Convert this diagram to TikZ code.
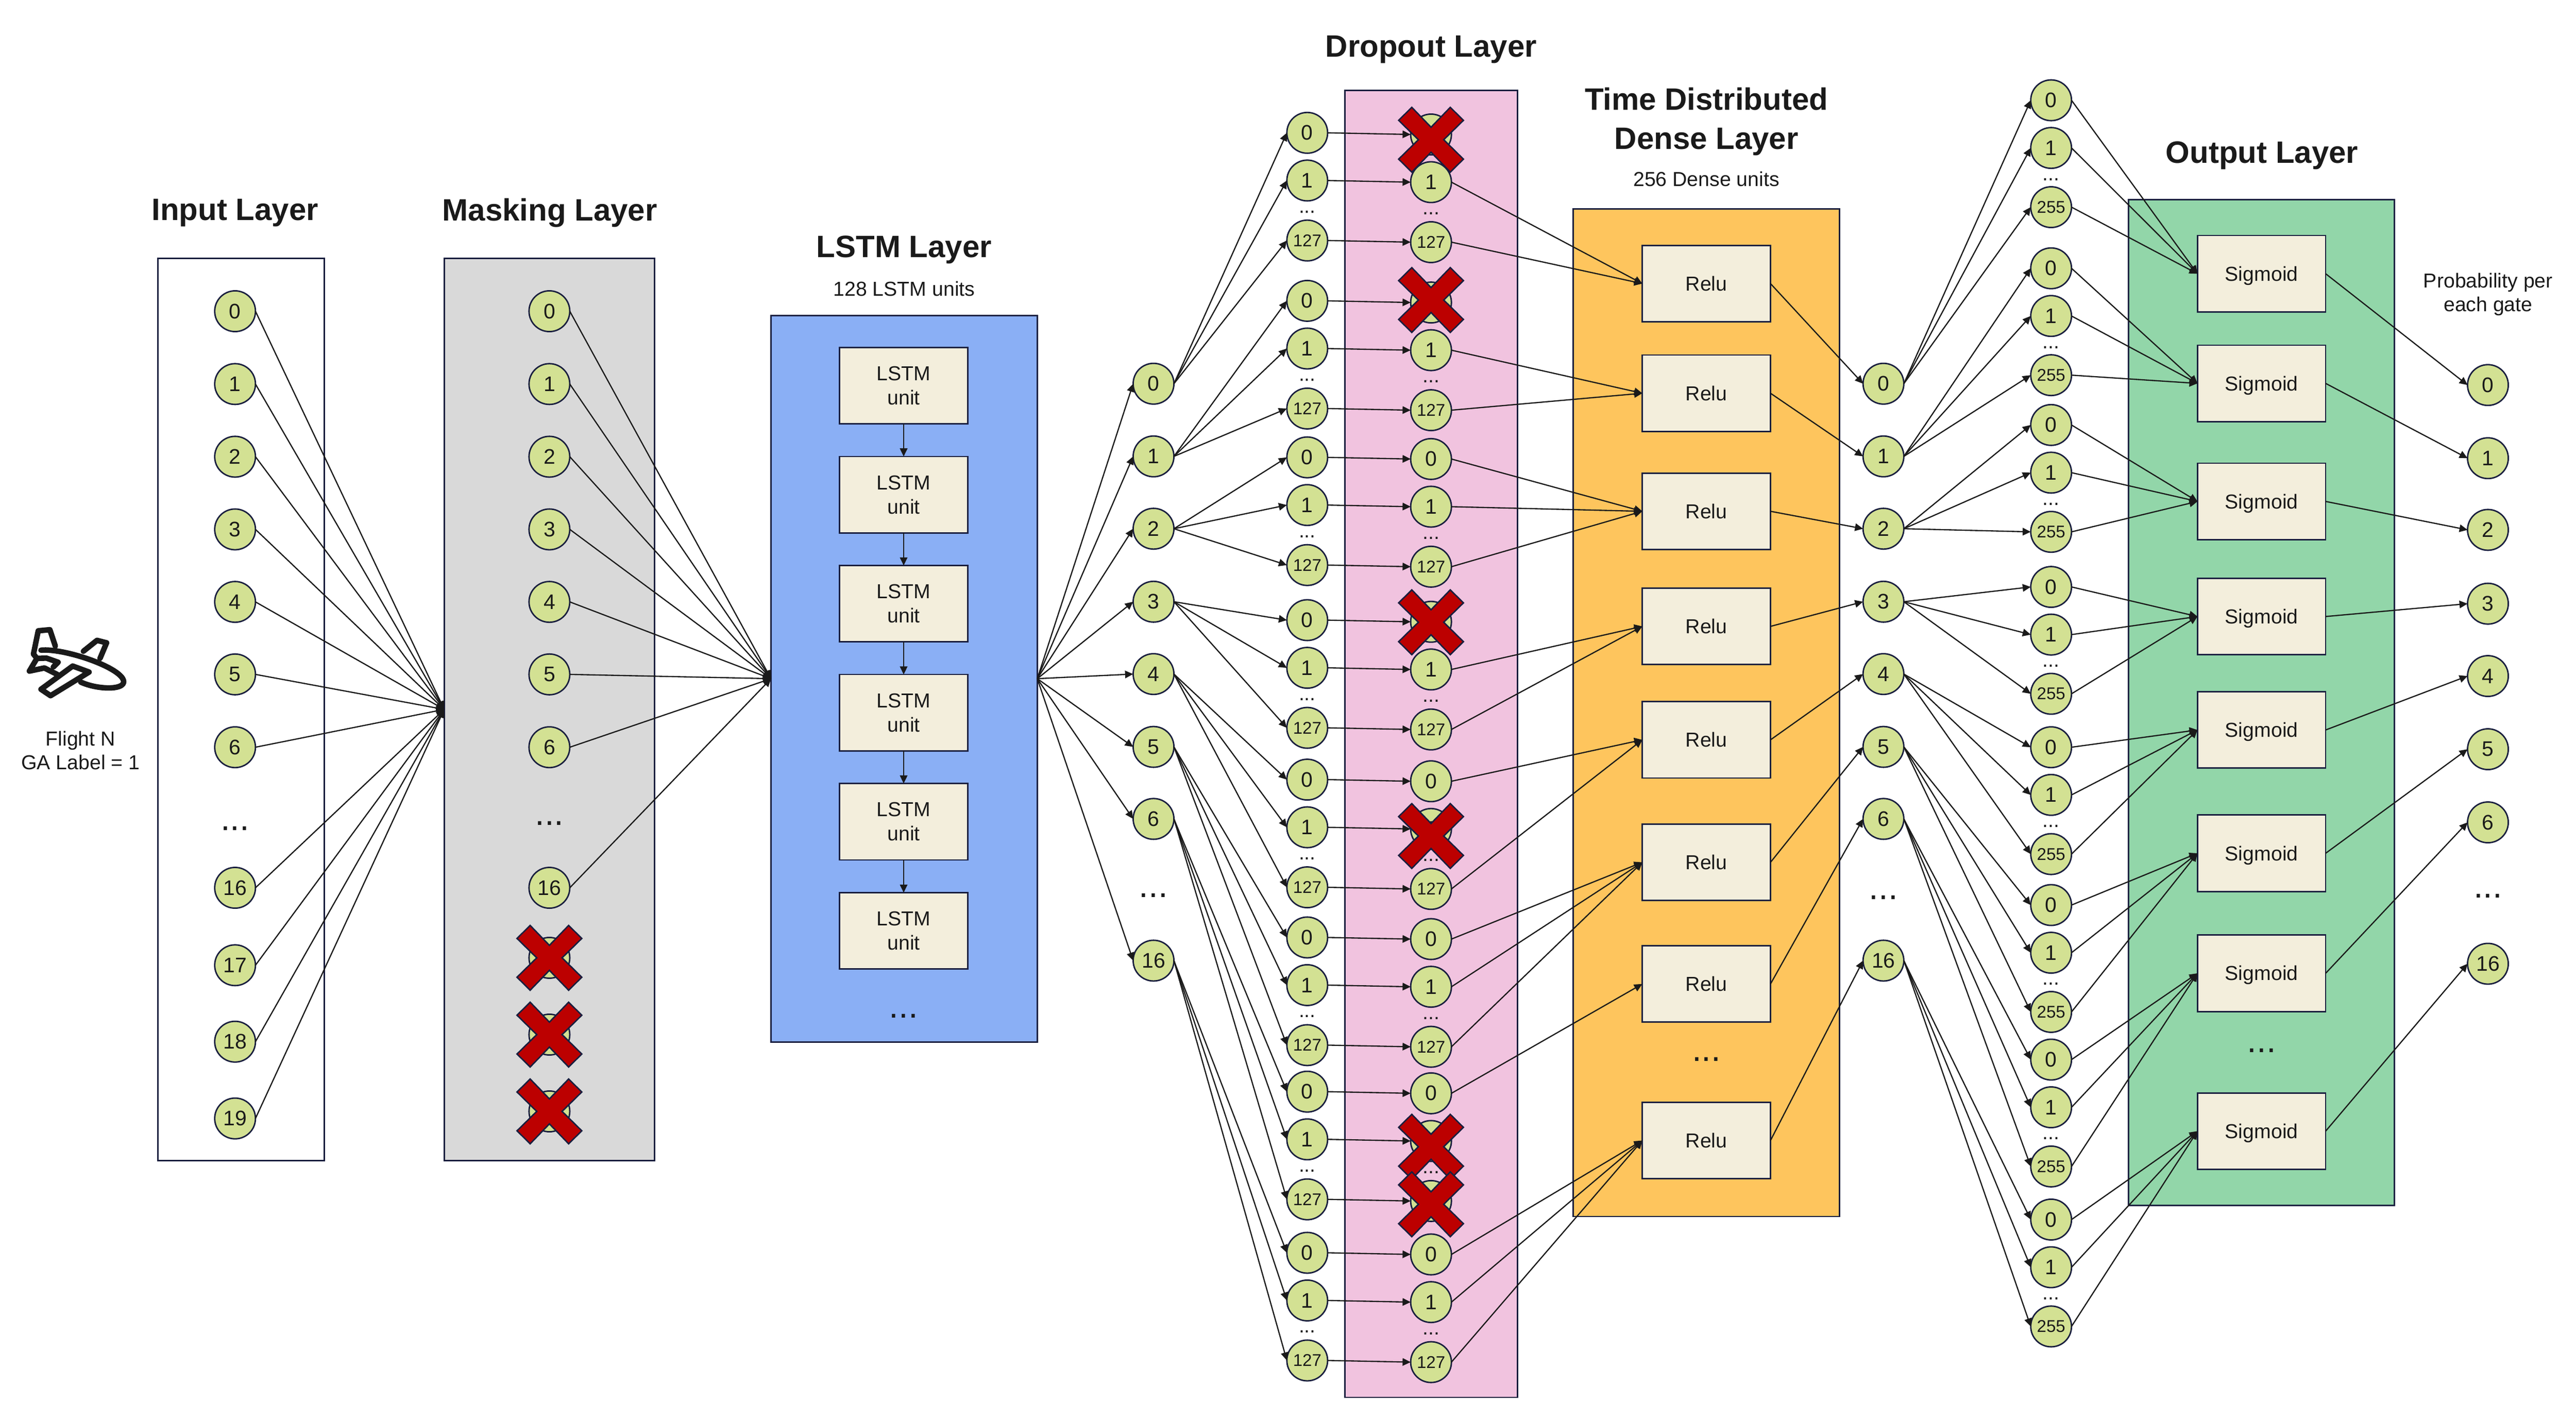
\documentclass[tikz,border=0pt]{standalone}
\usepackage{fontspec}
\setmainfont{Liberation Sans}
\usetikzlibrary{arrows.meta}
\definecolor{inkblue}{HTML}{1A1F3F}
\definecolor{inktext}{HTML}{1A1A1A}
\definecolor{neurongreen}{HTML}{D3E193}
\definecolor{cellcream}{HTML}{F3EEDC}
\definecolor{maskgray}{HTML}{D9D9D9}
\definecolor{lstmblue}{HTML}{8AAFF5}
\definecolor{droppink}{HTML}{F1C3DF}
\definecolor{denseorange}{HTML}{FEC55D}
\definecolor{outgreen}{HTML}{92D6A9}
\definecolor{crossred}{HTML}{BC0000}
\tikzset{
	neuron/.style={circle, draw=inkblue, line width=.5pt, fill=neurongreen, text=inktext, minimum size=.496cm, inner sep=0, outer sep=0, font=\fontsize{7.3}{8}\selectfont},
	neuronsmall/.style={neuron, font=\fontsize{5.9}{6}\selectfont},
	cellbox/.style={rectangle, draw=inkblue, line width=.5pt, fill=cellcream, text=inktext, minimum width=1.56cm, minimum height=.93cm, inner sep=0, outer sep=0, font=\fontsize{7}{8.4}\selectfont},
	lstmcell/.style={cellbox, align=center},
	gatecell/.style={cellbox, text height=5pt, text depth=0pt},
	layerbox/.style={rectangle, draw=inkblue, line width=.5pt, inner sep=0, outer sep=0},
	heading/.style={text=inktext, align=center, font=\bfseries\fontsize{10.7}{13.6}\selectfont},
	caption/.style={text=inktext, align=center, font=\fontsize{7}{8.3}\selectfont},
	dotsmall/.style={text=inktext, inner sep=0, yshift=-.6pt, font=\fontsize{7}{8}\selectfont},
	dotbig/.style={text=inktext, inner sep=0, yshift=-1.1pt, font=\fontsize{12}{13}\selectfont},
	conn/.style={draw=inktext, line width=.42pt, -{Triangle[length=2.8pt,width=2.6pt]}},
	redcross/.style={draw=inkblue, line width=.5pt, fill=crossred},
	planeline/.style={draw=inktext, line width=1.9pt, line join=round, line cap=round}
}
\begin{document}
\begin{tikzpicture}[x=.02cm, y=-.02cm]
	\useasboundingbox (0,0) rectangle (1567,863.1);
	\node[layerbox, fill=white, minimum width=2.024cm, minimum height=10.98cm] (inbox) at (146.6,431.5) {};
	\node[layerbox, fill=maskgray, minimum width=2.56cm, minimum height=10.98cm] (maskbox) at (334.2,431.5) {};
	\node[layerbox, fill=lstmblue, minimum width=3.24cm, minimum height=8.84cm] (lstmbox) at (550,412.8) {};
	\node[layerbox, fill=droppink, minimum width=2.1cm, minimum height=15.9cm] (dropbox) at (870.5,452.5) {};
	\node[layerbox, fill=denseorange, minimum width=3.24cm, minimum height=12.26cm] (densebox) at (1038,433.5) {};
	\node[layerbox, fill=outgreen, minimum width=3.236cm, minimum height=12.24cm] (outbox) at (1375.6,427.3) {};

	\node[heading] (t1) at (143,129.5) {Input Layer};
	\node[heading] (t2) at (334.5,129.5) {Masking Layer};
	\node[heading] (t3) at (550,152) {LSTM Layer};
	\node[caption] (c3) at (550,175.5) {128 LSTM units};
	\node[heading] (t4) at (870.6,30) {Dropout Layer};
	\node[heading] (t5) at (1038,74) {Time Distributed\\Dense Layer};
	\node[caption] (c5) at (1038,109) {256 Dense units};
	\node[heading] (t6) at (1376,94.5) {Output Layer};
	\node[caption] (c6) at (1513.5,179) {Probability per\\each gate};
	\node[caption] (c0) at (49,456.5) {Flight N\\GA Label = 1};

	\foreach \i/\y/\t in {0/189.3/0,1/233.6/1,2/277.8/2,3/322/3,4/366.1/4,5/410.2/5,6/454.5/6,7/540/16,8/587.1/17,9/633.6/18,10/680.3/19} {
		\node[neuron] (in\i) at (143,\y) {\t};
	}
	\foreach \i/\y/\t in {0/189.3/0,1/233.6/1,2/277.8/2,3/322/3,4/366.1/4,5/410.2/5,6/454.5/6,7/540/16} {
		\node[neuron] (mk\i) at (334.2,\y) {\t};
	}
	\foreach \i/\y in {8/582.6,9/629.3,10/676} {
		\node[neuron] (mk\i) at (334.2,\y) {};
	}
	\node[dotbig] (d1) at (143,502) {...};
	\node[dotbig] (d2) at (334.2,499) {...};

	\foreach \i/\y in {0/234.6,1/300.9,2/367.2,3/433.5,4/499.8,5/566.2} {
		\node[lstmcell] (lstm\i) at (549.7,\y) {LSTM\\unit};
	}
	\node[dotbig] (d3) at (549.7,616) {...};

	\foreach \g/\y/\t in {0/233.4/0,1/277.6/1,2/321.6/2,3/366/3,4/410/4,5/454.3/5,6/498.1/6,7/584.3/16} {
		\node[neuron] (ls\g) at (701.7,\y) {\t};
		\node[neuron] (dn\g) at (1145.7,\y) {\t};
	}
	\node[dotbig] (d4) at (701.7,542.6) {...};
	\node[dotbig] (d5) at (1145.7,544) {...};

	\foreach \g/\y in {0/80.8,1/183,2/278.2,3/377.2,4/474.2,5/570.2,6/664,7/762} {
		\node[neuron] (dla\g) at (795.2,\y) {0};
		\node[neuron] (dlb\g) at (795.2,\y+29) {1};
		\node[dotsmall] (dlp\g) at (795.2,\y+47) {...};
		\node[neuronsmall] (dlc\g) at (795.2,\y+65.5) {127};
	}
	\foreach \g/\y in {0/81.8,1/184,2/279.2,3/378.2,4/475.2,5/571.2,6/665,7/763} {
		\node[neuron] (dra\g) at (870.5,\y) {0};
		\node[neuron] (drb\g) at (870.5,\y+29) {1};
		\node[dotsmall] (drp\g) at (870.5,\y+47) {...};
		\node[neuronsmall] (drc\g) at (870.5,\y+65.5) {127};
	}
	\foreach \g/\y in {0/61,1/163.2,2/258.5,3/357,4/454.5,5/550.5,6/644.5,7/741.8} {
		\node[neuron] (dda\g) at (1247.7,\y) {0};
		\node[neuron] (ddb\g) at (1247.7,\y+29) {1};
		\node[dotsmall] (ddp\g) at (1247.7,\y+47) {...};
		\node[neuronsmall] (ddc\g) at (1247.7,\y+65) {255};
	}
	\foreach \g/\y in {0/172.5,1/239.2,2/311,3/381,4/450,5/524.5,6/598.5,7/693.7} {
		\node[gatecell] (relu\g) at (1038,\y) {Relu};
	}
	\node[dotbig] (d6) at (1038,642.5) {...};
	\foreach \g/\y in {0/166.5,1/233.2,2/305,3/375,4/444,5/519,6/592,7/688} {
		\node[gatecell] (sig\g) at (1375.7,\y) {Sigmoid};
	}
	\node[dotbig] (d7) at (1375.7,637) {...};
	\foreach \g/\y/\t in {0/234.2/0,1/278.7/1,2/322.3/2,3/367.2/3,4/411.2/4,5/455.7/5,6/500.2/6,7/586.2/16} {
		\node[neuron] (pr\g) at (1513.4,\y) {\t};
	}
	\node[dotbig] (d8) at (1513.4,543) {...};

	\foreach \i in {0,...,10} {
		\draw[conn] (in\i.east) -- (maskbox.west);
	}
	\foreach \i in {0,...,7} {
		\draw[conn] (mk\i.east) -- (lstmbox.west);
		\draw[conn] (lstmbox.east) -- (ls\i.west);
	}
	\foreach \i/\j in {0/1,1/2,2/3,3/4,4/5} {
		\draw[conn] (lstm\i.south) -- (lstm\j.north);
	}
	\foreach \g in {0,...,7} {
		\foreach \m in {a,b,c} {
			\draw[conn] (ls\g.east) -- (dl\m\g.west);
			\draw[conn] (dl\m\g.east) -- (dr\m\g.west);
			\draw[conn] (dn\g.east) -- (dd\m\g.west);
			\draw[conn] (dd\m\g.east) -- (sig\g.west);
		}
		\draw[conn] (relu\g.east) -- (dn\g.west);
		\draw[conn] (sig\g.east) -- (pr\g.west);
	}
	\foreach \m/\g in {b/0,c/0,b/1,c/1,a/2,b/2,c/2,b/3,c/3,a/4,c/4,a/5,b/5,c/5,a/6,a/7,b/7,c/7} {
		\draw[conn] (dr\m\g.east) -- (relu\g.west);
	}

	\foreach \x/\y in {334.2/582.6,334.2/629.3,334.2/676,870.5/85,870.5/182.5,870.5/378.5,870.5/508.5,870.5/697.5,870.5/732.5} {
		\draw[redcross, shift={(\x,\y)}] (-11.7,-19.7) -- (0,-7.6) -- (11.7,-19.7) -- (19.7,-11.8) -- (7.7,0) -- (19.7,11.8) -- (11.7,19.7) -- (0,7.6) -- (-11.7,19.7) -- (-19.7,11.8) -- (-7.7,0) -- (-19.7,-11.8) -- cycle;
	}

	\begin{scope}[shift={(9.97,373.7)}, x=.00166cm, y=-.00166cm]
		\draw[planeline] (180,262) .. controls (350,245) and (790,395) .. (785,495) .. controls (780,555) and (590,550) .. (470,495);
		\draw[planeline] (125,290) -- (160,120) -- (245,112) -- (285,232);
		\draw[planeline] (125,290) -- (150,322) -- (95,415) -- (205,392) -- (300,440);
		\draw[planeline] (150,322) -- (220,320) -- (305,350) -- (270,385);
		\draw[planeline] (490,270) -- (590,190) -- (660,208) -- (612,322);
		\draw[planeline] (180,548) -- (412,378) -- (532,422) -- (250,595) -- cycle;
	\end{scope}
\end{tikzpicture}
\end{document}
